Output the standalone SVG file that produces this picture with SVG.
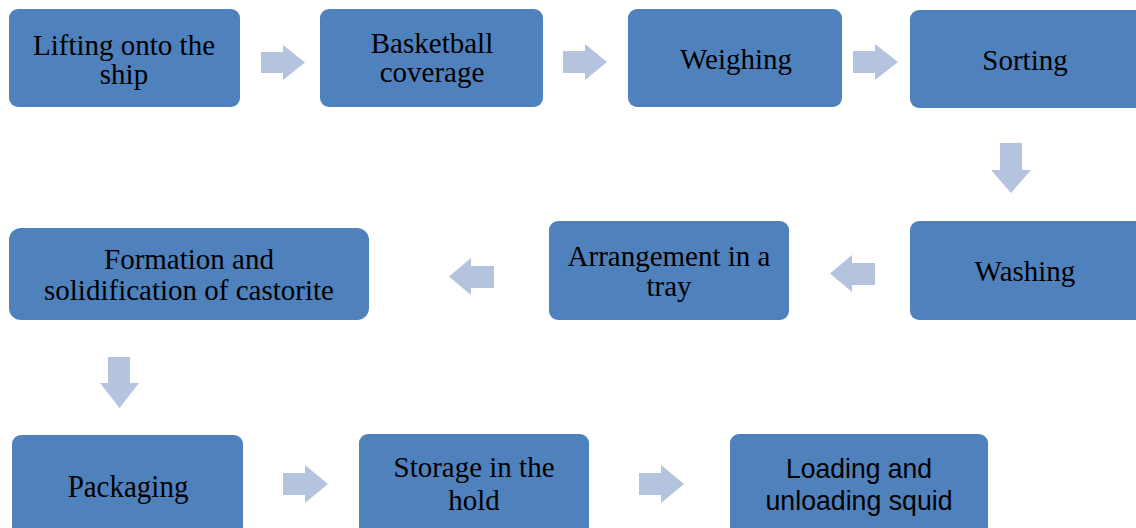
<svg xmlns="http://www.w3.org/2000/svg" width="1136" height="528" viewBox="0 0 1136 528">
<style>
.box{fill:#4F81BD;}
.arr{fill:#B4C4DF;}
.t{font-family:"Liberation Serif","Times New Roman",serif;font-size:29px;fill:#000;text-anchor:middle;}
.s{font-family:"Liberation Sans",Arial,sans-serif;font-size:26px;fill:#000;text-anchor:middle;}
</style>
<rect width="1136" height="528" fill="#fff"/>
<g id="connectors">
<path class="arr" d="M261,52 H283 V45 L305,62.5 L283,80 V73 H261 Z"/>
<path class="arr" d="M563,51 H585 V44 L607,62 L585,80 V73 H563 Z"/>
<path class="arr" d="M853,51 H875 V44 L898,62 L875,80 V73 H853 Z"/>
<path class="arr" d="M1000,143 H1022 V170 H1031 L1011,193 L991,170 H1000 Z"/>
<path class="arr" d="M875,263 H852 V255 L830,273.5 L852,292 V285 H875 Z"/>
<path class="arr" d="M494,266 H471 V258 L449,276.5 L471,295 V288 H494 Z"/>
<path class="arr" d="M108,357 H130 V383 H139 L119.5,408 L100,383 H108 Z"/>
<path class="arr" d="M283,473 H305 V465 L328,484 L305,503 V495 H283 Z"/>
<path class="arr" d="M639,473 H661 V465 L684,484 L661,503 V495 H639 Z"/>
</g>
<g id="n1"><rect class="box" x="9" y="9" width="231" height="98" rx="9"/><text class="t" x="124" y="55">Lifting onto the</text><text class="t" x="124" y="84">ship</text></g>
<g id="n2"><rect class="box" x="320" y="9" width="223" height="98" rx="9"/><text class="t" x="432" y="53">Basketball</text><text class="t" x="432" y="82">coverage</text></g>
<g id="n3"><rect class="box" x="628" y="9" width="214" height="98" rx="9"/><text class="t" x="736" y="69">Weighing</text></g>
<g id="n4"><rect class="box" x="910" y="10" width="236" height="98" rx="9"/><text class="t" x="1025" y="70">Sorting</text></g>
<g id="n5"><rect class="box" x="910" y="221" width="236" height="99" rx="9"/><text class="t" x="1025" y="281">Washing</text></g>
<g id="n6"><rect class="box" x="549" y="221" width="240" height="99" rx="9"/><text class="t" x="669" y="266">Arrangement in a</text><text class="t" x="669" y="296">tray</text></g>
<g id="n7"><rect class="box" x="9" y="228" width="360" height="92" rx="12"/><text class="t" x="189" y="269">Formation and</text><text class="t" x="189" y="300">solidification of castorite</text></g>
<g id="n8"><rect class="box" x="12" y="435" width="231" height="110" rx="9"/><text class="t" transform="translate(128,497) scale(1,1.1)">Packaging</text></g>
<g id="n9"><rect class="box" x="359" y="434" width="230" height="110" rx="9"/><text class="t" transform="translate(474,477) scale(1,1.05)">Storage in the</text><text class="t" transform="translate(474,510) scale(1,1.05)">hold</text></g>
<g id="n10"><rect class="box" x="730" y="434" width="258" height="110" rx="9"/><text class="s" textLength="146" lengthAdjust="spacingAndGlyphs" transform="translate(859,478) scale(1,1.08)">Loading and</text><text class="s" textLength="187" lengthAdjust="spacingAndGlyphs" transform="translate(859,510) scale(1,1.08)">unloading squid</text></g>
</svg>
